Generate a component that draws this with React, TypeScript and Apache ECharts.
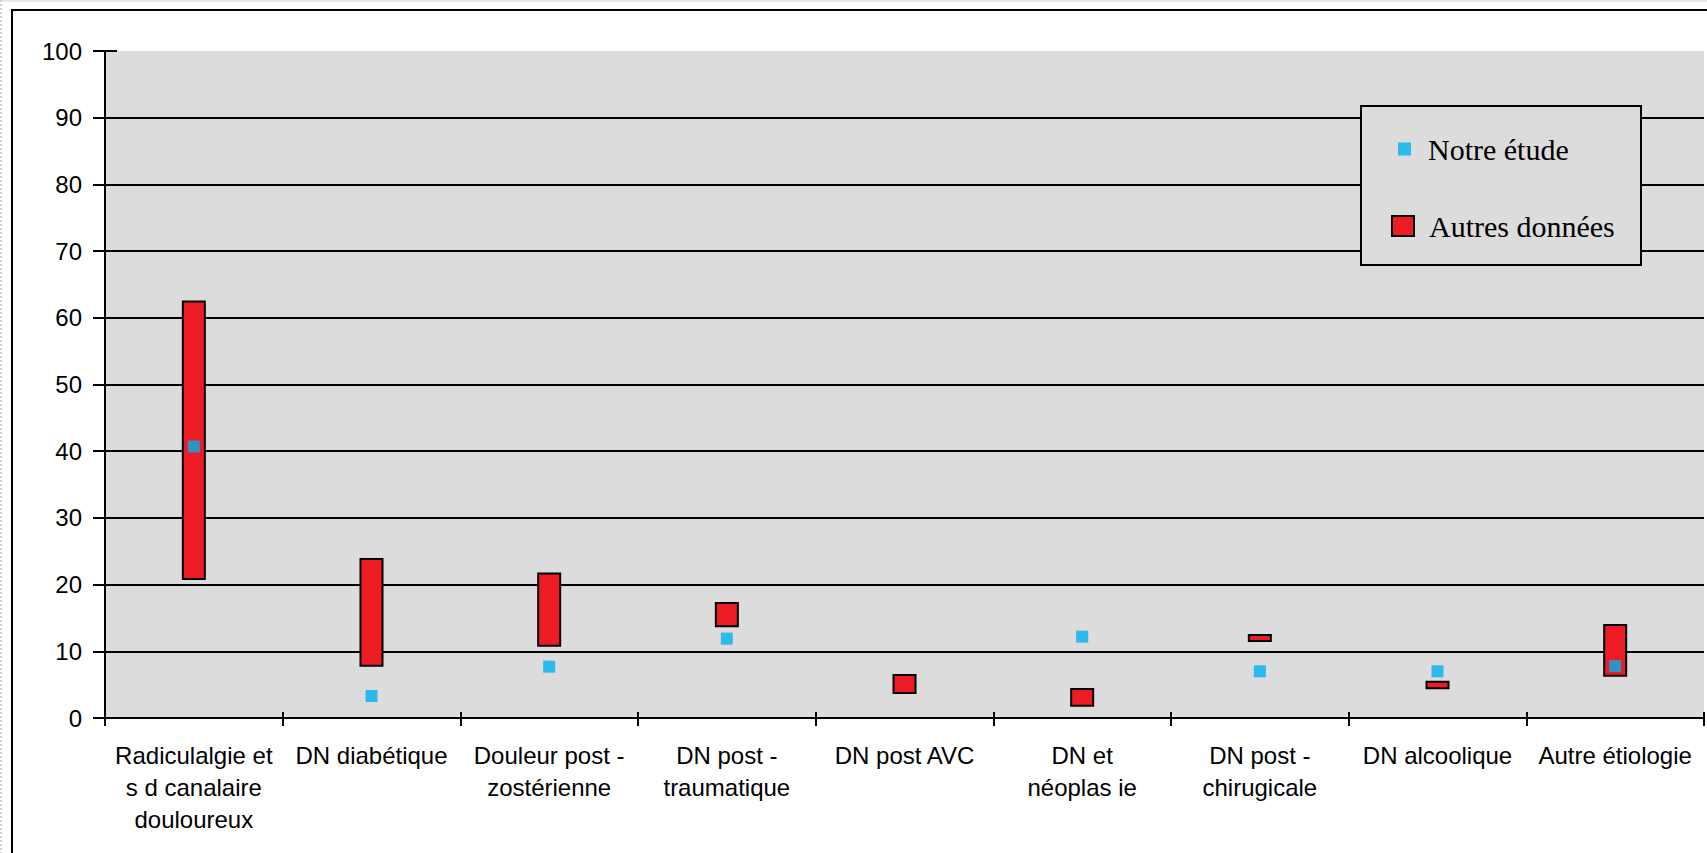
import React, { useEffect, useRef } from "react";
import * as echarts from "echarts";

const categories: string[] = [
  "Radiculalgie et\ns d canalaire\ndouloureux",
  "DN diabétique",
  "Douleur post -\nzostérienne",
  "DN post -\ntraumatique",
  "DN post AVC",
  "DN et\nnéoplas ie",
  "DN post -\nchirugicale",
  "DN alcoolique",
  "Autre étiologie",
];

// "Autres données" ranges (low / high)
const autresLow: number[] = [20.7, 7.7, 10.7, 13.6, 3.6, 1.7, 11.4, 4.3, 6.2];
const autresHigh: number[] = [62.6, 24.0, 21.8, 17.4, 6.6, 4.5, 12.6, 5.6, 14.1];
// "Notre étude" values
const notreEtude: (number | null)[] = [40.7, 3.3, 7.7, 11.9, null, 12.2, 7.0, 7.0, 7.8];

const yTicks = { min: 0, max: 100, interval: 10 };

const RED = "#ED1C24";
const BLUE = "#00B0F0";
const GRAY = "#DCDCDC";
const SANS = "'Liberation Sans', Arial, sans-serif";
const SERIF = "'Liberation Serif', 'Times New Roman', serif";

export default function App() {
  const ref = useRef<HTMLDivElement>(null);

  useEffect(() => {
    if (!ref.current) return;
    const chart = echarts.init(ref.current, undefined, { renderer: "svg" });
    const span = autresHigh.map((h, i) => +(h - autresLow[i]).toFixed(2));

    chart.setOption({
      animation: false,
      backgroundColor: "#ffffff",
      grid: {
        left: 105,
        right: 3,
        top: 51,
        bottom: 135,
        show: true,
        backgroundColor: GRAY,
        borderWidth: 0,
      },
      xAxis: [
        {
          type: "category",
          data: categories,
          position: "bottom",
          axisLine: { show: true, lineStyle: { color: "#000", width: 2 } },
          axisTick: { show: true, length: 8, lineStyle: { color: "#000", width: 2 } },
          axisLabel: {
            interval: 0,
            fontSize: 24,
            lineHeight: 32,
            fontFamily: SANS,
            color: "#000",
            margin: 21,
          },
          splitLine: { show: false },
        },
        {
          type: "category",
          data: categories,
          position: "bottom",
          axisLine: { show: false },
          axisTick: { show: true, inside: true, length: 6, lineStyle: { color: "#000", width: 2 } },
          axisLabel: { show: false },
          splitLine: { show: false },
        },
      ],
      yAxis: [
        {
          type: "value",
          min: yTicks.min,
          max: yTicks.max,
          interval: yTicks.interval,
          axisLine: { show: true, lineStyle: { color: "#000", width: 2 } },
          axisTick: { show: true, length: 12, lineStyle: { color: "#000", width: 2 } },
          axisLabel: { fontSize: 24, fontFamily: SANS, color: "#000", margin: 23 },
          splitLine: { show: true, showMaxLine: false, lineStyle: { color: "#000", width: 2 } },
        },
        {
          type: "value",
          min: yTicks.min,
          max: yTicks.max,
          interval: yTicks.interval,
          position: "left",
          axisLine: { show: false },
          axisTick: { show: true, inside: true, length: 12, lineStyle: { color: "#000", width: 2 } },
          axisLabel: { show: false },
          splitLine: { show: false },
        },
      ],
      legend: [
        {
          left: 1393,
          top: 129,
          orient: "vertical",
          selectedMode: false,
          itemWidth: 13,
          itemHeight: 13,
          data: [{ name: "Notre étude", icon: "rect", itemStyle: { color: BLUE, borderWidth: 0 } }],
          textStyle: { fontSize: 30, lineHeight: 30, fontFamily: SERIF, color: "#000", padding: [0, 0, 0, 12] },
          z: 5,
        },
        {
          left: 1386,
          top: 206,
          orient: "vertical",
          selectedMode: false,
          itemWidth: 22,
          itemHeight: 20,
          data: [
            {
              name: "Autres données",
              icon: "rect",
              itemStyle: { color: RED, borderColor: "#000", borderWidth: 2 },
            },
          ],
          textStyle: { fontSize: 30, lineHeight: 30, fontFamily: SERIF, color: "#000", padding: [0, 0, 0, 10] },
          z: 5,
        },
      ],
      graphic: [
        {
          type: "line",
          shape: { x1: 0, y1: 1, x2: 1707, y2: 1 },
          style: { stroke: "#e4e4e4", lineWidth: 2 },
          silent: true,
        },
        {
          type: "line",
          shape: { x1: 1, y1: 0, x2: 1, y2: 853 },
          style: { stroke: "#d0d0d0", lineWidth: 2, lineDash: [2, 2] },
          silent: true,
        },
        {
          type: "rect",
          shape: { x: 12, y: 10, width: 1760, height: 900 },
          style: { fill: "none", stroke: "#000", lineWidth: 2 },
          silent: true,
          z: 100,
        },
        {
          type: "rect",
          shape: { x: 1361, y: 106, width: 280, height: 159 },
          style: { fill: GRAY, stroke: "#000", lineWidth: 2 },
          silent: true,
          z: 3,
        },
      ],
      series: [
        {
          name: "base",
          type: "bar",
          stack: "range",
          barWidth: 24,
          silent: true,
          itemStyle: { color: "transparent", borderWidth: 0 },
          data: autresLow,
          z: 2,
        },
        {
          name: "Autres données",
          type: "bar",
          stack: "range",
          barWidth: 24,
          itemStyle: { color: RED, borderColor: "#000", borderWidth: 2 },
          data: span,
          z: 2,
        },
        {
          name: "Notre étude",
          type: "scatter",
          symbol: "rect",
          symbolSize: 12,
          itemStyle: { color: BLUE },
          data: notreEtude,
          z: 6,
        },
      ],
    });

    return () => chart.dispose();
  }, []);

  return (
    <div
      ref={ref}
      style={{ position: "fixed", left: 0, top: 0, width: 1707, height: 853, background: "#fff" }}
    />
  );
}
